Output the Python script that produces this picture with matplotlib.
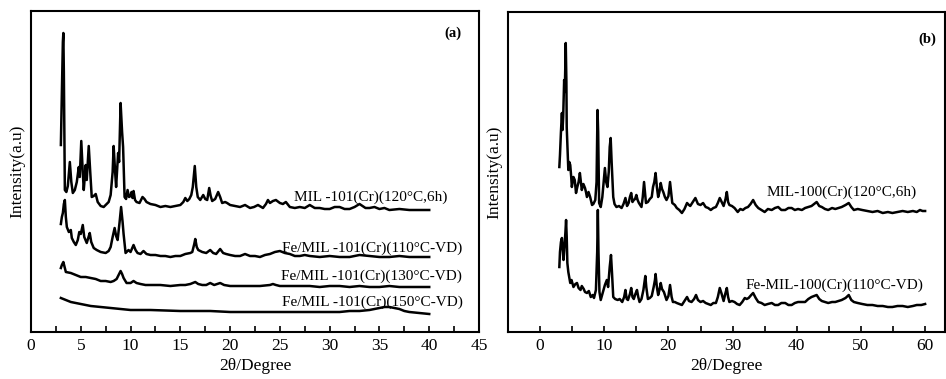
import numpy as np
import matplotlib
matplotlib.use('Agg')
import matplotlib.pyplot as plt
from matplotlib.ticker import MultipleLocator

plt.rcParams['font.family'] = ['Liberation Serif', 'DejaVu Serif']

# ---- panel (a): MIL-101(Cr) samples ----
a1_x = [3.0, 3.1, 3.2, 3.25, 3.3, 3.4, 3.55, 3.7, 3.9, 4.05, 4.2, 4.4, 4.6, 4.8, 4.9, 5.05, 5.2, 5.3, 5.5, 5.6,
        5.8, 5.95, 6.1, 6.3, 6.5, 6.7, 7.0, 7.3, 7.5, 7.8, 8.0, 8.2, 8.3, 8.45, 8.55, 8.75, 8.85, 9.0, 9.15, 9.25,
        9.4, 9.55, 9.7, 9.85, 10.0, 10.1, 10.2, 10.3, 10.45, 10.6, 10.9, 11.2, 11.4, 11.6, 12.0, 12.5, 13.0, 13.5,
        14.0, 14.5, 15.0, 15.3, 15.5, 15.7, 15.9, 16.1, 16.25, 16.45, 16.6, 16.75, 17.0, 17.3, 17.5, 17.7, 17.9,
        18.05, 18.2, 18.5, 18.8, 19.0, 19.2, 19.5, 19.7, 20.0, 20.5, 21.0, 21.5, 22.0, 22.4, 22.8, 23.3, 23.6, 23.8,
        24.0, 24.3, 24.6, 25.0, 25.3, 25.6, 26.0, 26.5, 27.0, 27.5, 28.0, 28.5, 29.0, 29.5, 30.0, 30.5, 31.0, 31.5,
        32.0, 32.5, 33.0, 33.3, 33.6, 34.0, 34.5, 35.0, 35.5, 36.0, 37.0, 38.0, 39.0, 40.0]
a1_y = [187, 239, 290, 299, 260, 142, 140, 146, 170, 150, 139, 142, 150, 165, 155, 191, 160, 142, 167, 152,
        186, 160, 135, 136, 138, 130, 126, 125, 127, 130, 137, 160, 186, 160, 145, 179, 170, 229, 200, 185,
        135, 133, 142, 135, 136, 140, 134, 141, 132, 130, 129, 135, 133, 130, 128, 127, 125, 126,
        125, 126, 127, 130, 134, 131, 133, 137, 145, 166, 145, 135, 132, 137, 133, 132, 144,
        136, 131, 133, 140, 135, 129, 130, 129, 127, 126, 125, 127, 124, 125, 127, 124, 128, 132,
        129, 131, 132, 129, 128, 130, 125, 124, 125, 124, 127, 124, 124, 123, 123, 125, 125, 123,
        123, 125, 128, 126, 124, 124, 125, 123, 124, 122, 123, 122, 122, 122]

a2_x = [3.0, 3.1, 3.2, 3.3, 3.4, 3.5, 3.6, 3.8, 4.0, 4.1, 4.3, 4.5, 4.7, 4.85, 5.0, 5.2, 5.35, 5.6, 5.75, 5.9,
        6.05, 6.3, 6.6, 7.0, 7.5, 7.8, 8.0, 8.2, 8.4, 8.55, 8.7, 8.9, 9.05, 9.2, 9.3, 9.5, 9.8, 10.0, 10.3, 10.5,
        10.7, 11.0, 11.3, 11.6, 12.0, 12.5, 13.0, 13.5, 14.0, 14.5, 15.0, 15.5, 16.0, 16.2, 16.4, 16.5, 16.65,
        16.8, 17.2, 17.6, 18.0, 18.3, 18.6, 19.0, 19.3, 19.6, 20.0, 20.5, 21.0, 21.5, 22.0, 22.5, 23.0, 23.5,
        24.0, 24.5, 25.0, 25.5, 26.0, 26.5, 27.0, 27.5, 28.0, 29.0, 30.0, 31.0, 32.0, 33.0, 34.0, 35.0, 36.0,
        37.0, 38.0, 39.0, 40.0]
a2_y = [108, 115, 119, 128, 132, 115, 105, 100, 102, 94, 90, 87, 92, 100, 98, 107, 95, 89, 94, 99,
        90, 84, 82, 80, 79, 81, 85, 95, 104, 96, 92, 110, 125, 110, 98, 79, 82, 80, 87, 82,
        79, 78, 81, 78, 77, 77, 76, 76, 75, 76, 76, 78, 79, 80, 88, 93, 85,
        82, 80, 79, 82, 79, 78, 83, 79, 78, 77, 76, 76, 78, 76, 76, 75, 77,
        78, 80, 81, 79, 78, 76, 76, 77, 76, 75, 76, 75, 75, 77, 76, 75, 75,
        76, 75, 75, 75]

a3_x = [3.0, 3.1, 3.25, 3.4, 3.5, 4.0, 4.5, 5.0, 5.5, 6.0, 6.5, 7.0, 7.5, 8.0, 8.3, 8.6, 8.8, 9.0, 9.15, 9.3,
        9.6, 10.0, 10.3, 10.6, 11.0, 11.5, 12.0, 13.0, 14.0, 15.0, 15.5, 16.0, 16.5, 16.8, 17.2, 17.6, 18.0,
        18.4, 19.0, 19.4, 20.0, 21.0, 22.0, 23.0, 24.0, 24.3, 24.6, 25.0, 26.0, 27.0, 28.0, 29.0, 30.0, 31.0,
        32.0, 33.0, 34.0, 35.0, 36.0, 37.0, 38.0, 39.0, 40.0]
a3_y = [64, 67, 70, 64, 60, 59, 57, 55, 55, 54, 53, 51, 51, 50, 51, 53, 57, 61, 58, 54,
        49, 49, 51, 49, 48, 47, 47, 47, 46, 47, 47, 48, 50, 48, 47, 47, 49,
        47, 49, 47, 46, 46, 46, 46, 47, 48, 47, 46, 46, 46, 46, 45, 46, 46,
        45, 46, 45, 45, 46, 45, 45, 45, 45]

a4_x = [3.0, 3.5, 4.0, 4.5, 5.0, 5.5, 6.0, 7.0, 8.0, 9.0, 10.0, 12.0, 15.0, 18.0, 20.0, 22.0, 25.0, 28.0,
        30.0, 31.0, 32.0, 33.0, 34.0, 35.0, 35.5, 36.0, 36.5, 37.0, 37.5, 38.0, 39.0, 40.0]
a4_y = [34, 32, 30, 29, 28, 27, 26, 25, 24, 23, 22, 22, 21, 21, 20, 20, 20, 20,
        20, 20, 21, 21, 22, 24, 25, 25, 24, 23, 21, 20, 19, 18]

labels_a = ['MIL -101(Cr)(120°C,6h)', 'Fe/MIL -101(Cr)(110°C-VD)',
            'Fe/MIL -101(Cr)(130°C-VD)', 'Fe/MIL -101(Cr)(150°C-VD)']
label_a_x = [41.8, 43.3, 43.3, 43.4]
label_a_y = [135, 84, 56, 30]

# ---- panel (b): MIL-100(Cr) samples ----
b1_x = [3.0, 3.1, 3.25, 3.4, 3.5, 3.6, 3.75, 3.85, 4.0, 4.1, 4.15, 4.3, 4.4, 4.55, 4.7, 4.85, 4.95, 5.2, 5.4,
        5.6, 5.8, 6.0, 6.2, 6.35, 6.5, 6.75, 7.0, 7.15, 7.3, 7.55, 7.8, 8.1, 8.3, 8.6, 8.8, 8.95, 9.05, 9.2,
        9.45, 9.7, 9.9, 10.1, 10.3, 10.5, 10.7, 10.85, 11.0, 11.15, 11.4, 11.6, 11.9, 12.3, 12.7, 13.0, 13.3,
        13.55, 13.8, 14.0, 14.2, 14.4, 14.6, 14.8, 15.0, 15.2, 15.4, 15.8, 16.0, 16.2, 16.35, 16.5, 16.8, 17.1,
        17.4, 17.6, 17.8, 18.0, 18.2, 18.4, 18.6, 18.8, 19.0, 19.2, 19.45, 19.7, 20.0, 20.25, 20.45, 20.6, 21.0,
        21.3, 21.7, 22.1, 22.5, 22.9, 23.2, 23.4, 23.8, 24.2, 24.6, 25.0, 25.4, 25.8, 26.2, 26.6, 27.0, 27.4,
        27.7, 28.0, 28.3, 28.6, 28.9, 29.1, 29.3, 29.5, 29.9, 30.3, 30.8, 31.2, 31.6, 32.0, 32.4, 32.8, 33.2,
        33.6, 34.0, 34.5, 35.0, 35.5, 36.1, 36.6, 37.1, 37.6, 38.2, 38.7, 39.2, 39.7, 40.2, 40.8, 41.3, 41.8,
        42.3, 42.7, 43.1, 43.5, 43.9, 44.4, 44.9, 45.5, 46.0, 46.5, 47.0, 47.6, 48.1, 48.5, 48.9, 49.5, 50.2,
        51.0, 51.8, 52.6, 53.4, 54.2, 54.9, 55.7, 56.5, 57.3, 58.1, 58.7, 59.2, 59.6, 60.0]
b1_y = [165, 177, 200, 219, 202, 215, 252, 240, 289, 250, 205, 180, 162, 170, 167, 155, 145, 155, 152,
        139, 145, 150, 159, 150, 142, 148, 144, 140, 135, 140, 135, 127, 128, 132, 150, 222, 200, 129,
        125, 135, 150, 164, 150, 145, 160, 185, 194, 170, 135, 128, 125, 126, 124, 128, 134,
        126, 129, 135, 139, 130, 132, 133, 137, 132, 129, 125, 135, 150, 140, 129, 130, 133,
        135, 145, 150, 159, 145, 135, 140, 149, 143, 140, 135, 132, 136, 150, 138, 129, 127,
        124, 122, 119, 123, 129, 127, 126, 130, 134, 128, 127, 129, 125, 124, 122, 124, 125,
        129, 134, 130, 126, 133, 140, 130, 127, 126, 124, 120, 123, 122, 124, 125, 128, 132,
        127, 124, 122, 120, 123, 122, 124, 125, 122, 122, 124, 124, 122, 123, 122, 124, 125,
        126, 128, 130, 126, 125, 123, 122, 124, 123, 124, 125, 127, 129, 125, 122, 123, 122,
        121, 120, 121, 119, 120, 119, 120, 121, 120, 121, 120, 122, 121, 121]

b2_x = [3.0, 3.1, 3.25, 3.4, 3.5, 3.65, 3.8, 3.95, 4.05, 4.15, 4.25, 4.4, 4.7, 4.9, 5.2, 5.5, 5.75, 6.0, 6.3,
        6.5, 6.8, 7.0, 7.3, 7.6, 7.9, 8.2, 8.4, 8.7, 8.9, 9.0, 9.1, 9.25, 9.45, 9.8, 10.1, 10.4, 10.6, 10.85,
        11.05, 11.2, 11.4, 11.7, 12.1, 12.4, 12.8, 13.1, 13.3, 13.5, 13.7, 14.0, 14.2, 14.4, 14.6, 14.85, 15.1,
        15.3, 15.5, 15.8, 16.1, 16.4, 16.55, 16.8, 17.1, 17.4, 17.7, 17.9, 18.0, 18.2, 18.4, 18.6, 18.8, 19.0,
        19.3, 19.7, 20.0, 20.25, 20.5, 20.7, 21.0, 21.3, 21.7, 22.1, 22.5, 22.9, 23.2, 23.6, 24.0, 24.3, 24.6,
        25.0, 25.4, 25.8, 26.2, 26.6, 27.0, 27.4, 27.7, 28.0, 28.3, 28.6, 28.85, 29.1, 29.3, 29.5, 29.9, 30.3,
        30.7, 31.1, 31.5, 31.9, 32.2, 32.5, 32.9, 33.2, 33.6, 34.0, 34.5, 35.0, 35.5, 36.1, 36.6, 37.1, 37.6,
        38.2, 38.7, 39.2, 39.7, 40.2, 40.8, 41.3, 41.8, 42.3, 42.7, 43.1, 43.5, 43.9, 44.4, 44.9, 45.5, 46.0,
        46.5, 47.0, 47.6, 48.1, 48.5, 48.9, 49.5, 50.2, 51.0, 51.8, 52.6, 53.4, 54.2, 54.9, 55.7, 56.5, 57.3,
        58.1, 58.7, 59.4, 60.0]
b2_y = [65, 80, 90, 94, 85, 72, 85, 100, 112, 95, 69, 60, 49, 52, 45, 48, 49, 44, 42,
        46, 43, 40, 39, 41, 35, 37, 34, 42, 80, 122, 80, 40, 32, 40, 47, 52, 45, 65,
        77, 60, 35, 33, 32, 33, 30, 35, 42, 33, 32, 38, 44, 35, 33, 38, 42,
        35, 30, 33, 42, 56, 45, 33, 34, 36, 45, 52, 58, 45, 37, 42, 49, 43,
        40, 32, 36, 47, 35, 30, 30, 29, 28, 27, 31, 35, 31, 30, 33, 37, 32,
        30, 31, 29, 28, 27, 29, 29, 35, 44, 38, 31, 38, 44, 35, 30, 31, 30,
        28, 27, 30, 34, 33, 34, 37, 39, 34, 30, 29, 27, 28, 29, 27, 27, 29,
        29, 27, 27, 29, 30, 30, 30, 33, 35, 36, 37, 33, 31, 30, 29, 30, 30,
        31, 32, 34, 37, 32, 30, 29, 28, 27, 27, 26, 26, 25, 25, 26, 26, 25,
        26, 27, 27, 28]

labels_b = ['MIL-100(Cr)(120°C,6h)', 'Fe-MIL-100(Cr)(110°C-VD)']
label_b_x = [58.7, 59.7]
label_b_y = [140, 47]

fig = plt.figure(figsize=(9.46, 3.79), dpi=100)
ax1 = fig.add_axes([31/946, 47/379, 448/946, 321/379])
ax2 = fig.add_axes([508/946, 47/379, 437/946, 320/379])

lw = 1.8
for x, y in [(a1_x, a1_y), (a2_x, a2_y), (a3_x, a3_y), (a4_x, a4_y)]:
    ax1.plot(x, y, color='black', lw=lw)
for x, y in [(b1_x, b1_y), (b2_x, b2_y)]:
    ax2.plot(x, y, color='black', lw=lw)

for lab, xx, yy in zip(labels_a, label_a_x, label_a_y):
    ax1.text(xx, yy, lab, ha='right', va='center', fontsize=11)
for lab, xx, yy in zip(labels_b, label_b_x, label_b_y):
    ax2.text(xx, yy, lab, ha='right', va='center', fontsize=11)

ax1.text(42.4, 299, '(a)', ha='center', va='center', fontsize=10.5, fontweight='bold')
ax2.text(60.3, 293, '(b)', ha='center', va='center', fontsize=10.5, fontweight='bold')

ax1.set_xlim(0, 45)
ax1.set_ylim(0, 321)
ax1.xaxis.set_major_locator(MultipleLocator(5))
ax1.xaxis.set_minor_locator(MultipleLocator(2.5))

ax2.set_xlim(-5, 63.1)
ax2.set_ylim(0, 320)
ax2.set_xticks([0, 10, 20, 30, 40, 50, 60])
ax2.xaxis.set_minor_locator(MultipleLocator(5))

for ax in (ax1, ax2):
    ax.set_yticks([])
    ax.tick_params(axis='x', which='both', direction='in', length=4, width=1.2, labelsize=12.5, pad=4)
    for s in ax.spines.values():
        s.set_linewidth(1.5)
    ax.set_xlabel('2θ/Degree', fontsize=12.5, labelpad=3)
    ax.set_ylabel('Intensity(a.u)', fontsize=12.5, labelpad=4)

fig.savefig('out.png', dpi=100)
